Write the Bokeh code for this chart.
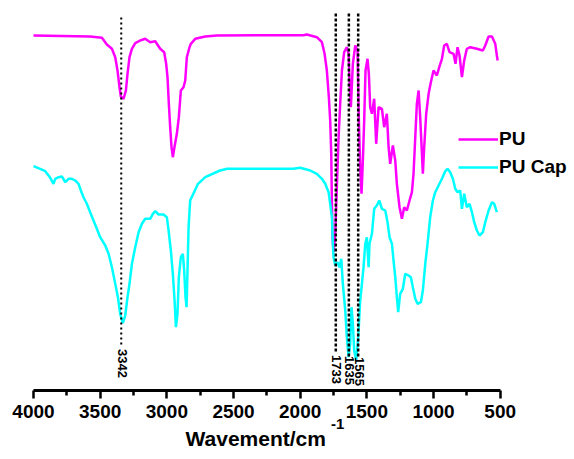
import numpy as np
from bokeh.plotting import figure
from bokeh.models import Range1d, FixedTicker, Label, Legend, LegendItem, ColumnDataSource
from bokeh.core.properties import value
from bokeh.embed import file_html
from bokeh.resources import INLINE

# ---------------- data (transmittance in arbitrary units) ----------------
pu_wn = [4000, 3575, 3487, 3450, 3412, 3387, 3370, 3355, 3345, 3325, 3307, 3295, 3280, 3262, 3237,
         3200, 3162, 3125, 3087, 3050, 3020, 3005, 2995, 2985, 2975, 2965, 2955, 2943, 2925, 2910,
         2895, 2875, 2862, 2850, 2830, 2820, 2787, 2712, 2625, 1977, 1950, 1875, 1837, 1817, 1800,
         1785, 1775, 1767, 1762, 1757, 1750, 1737, 1725, 1712, 1700, 1687, 1670, 1650, 1637, 1630,
         1620, 1605, 1587, 1570, 1560, 1550, 1540, 1530, 1520, 1510, 1495, 1485, 1475, 1462, 1445,
         1430, 1412, 1387, 1370, 1350, 1337, 1325, 1305, 1287, 1275, 1255, 1237, 1220, 1200, 1180,
         1162, 1150, 1137, 1125, 1112, 1100, 1087, 1080, 1070, 1055, 1037, 1020, 1000, 975, 957,
         937, 920, 900, 880, 850, 835, 820, 805, 787, 770, 750, 725, 675, 630, 612, 587, 562, 537,
         525, 519]
pu_t = [355, 354, 352.7, 346, 341.7, 333.3, 320, 303.3, 294, 291.7, 300, 316.7, 333.3, 341.7, 347.3,
        350, 351.7, 348.3, 349.3, 341.7, 338.3, 326.7, 313.3, 286.7, 263.3, 243.3, 233.3, 243.3, 256.7, 273.3,
        300, 303.3, 310, 333.3, 343.3, 346.7, 351.7, 354, 355, 355.3, 356, 353.3, 348.3, 336.7, 320,
        293.3, 270, 236.7, 186.7, 153.3, 138.3, 156.7, 203.3, 253.3, 286.7, 320, 338.3, 343.3, 336.7, 310,
        283.3, 326.7, 345, 340, 270, 223.3, 196.7, 230, 270, 320, 331.7, 316.7, 283.3, 276.7, 291.7,
        246.7, 283.3, 281.7, 263.3, 276.7, 243.3, 226.7, 245, 230, 206.7, 183.3, 171.7, 183.3, 180, 190,
        198.3, 216.7, 253.3, 286.7, 300, 273.3, 236.7, 216.7, 243.3, 276.7, 296.7, 308.3, 320, 315, 323.3,
        331.7, 345, 346.7, 338.3, 336.7, 326.7, 343.3, 335, 313.3, 330, 341.7, 343.3, 341.7, 340, 345, 354, 354, 346.7,
        335, 330]

cap_wn = [4000, 3950, 3912, 3887, 3870, 3850, 3837, 3812, 3787, 3762, 3737, 3712, 3687, 3662, 3645,
          3625, 3600, 3575, 3550, 3525, 3500, 3462, 3437, 3412, 3387, 3367, 3350, 3330, 3312, 3295,
          3280, 3262, 3237, 3212, 3187, 3162, 3125, 3105, 3087, 3062, 3025, 3000, 2987, 2970, 2955,
          2942, 2932, 2920, 2910, 2895, 2880, 2870, 2860, 2852, 2845, 2837, 2825, 2766, 2712, 2601,
          2547, 2052, 2000, 1925, 1875, 1837, 1812, 1787, 1775, 1762, 1755, 1750, 1737, 1720, 1705,
          1692, 1680, 1662, 1650, 1637, 1625, 1615, 1605, 1595, 1580, 1565, 1550, 1537, 1525, 1512,
          1500, 1487, 1480, 1462, 1445, 1425, 1407, 1387, 1362, 1345, 1330, 1312, 1300, 1287, 1275,
          1265, 1250, 1230, 1212, 1187, 1170, 1155, 1137, 1120, 1095, 1080, 1062, 1045, 1025, 1005,
          987, 962, 937, 912, 895, 875, 855, 837, 820, 800, 787, 770, 750, 730, 712, 695, 675, 655,
          630, 612, 587, 562, 545, 525]
cap_t = [224.3, 221.7, 219.3, 215, 211.7, 206.7, 211.7, 213.3, 214, 208.3, 211.7, 211.7, 210, 206.7, 200,
         193.3, 186.7, 178.3, 170, 161.7, 153.3, 145, 136.7, 123.3, 106.7, 93.3, 76.7, 67.3, 75, 93.3,
         106.7, 126.7, 143.3, 158.3, 166.7, 171.7, 171.7, 176.7, 179.3, 176, 176, 173.3, 160, 140, 116.7,
         90, 63.3, 76.7, 113.3, 133.3, 136.7, 120, 93.3, 83.3, 120, 163.3, 190, 206.7, 213.3, 220,
         221.7, 221.7, 222.7, 220, 216.7, 211.7, 206.7, 198.3, 186.7, 173.3, 146.7, 133.3, 125, 128.3, 123.3,
         131.7, 106.7, 80, 53.3, 33.3, 46.7, 83.3, 66.7, 40, 30, 53.3, 90, 106.7, 123.3, 146.7,
         153.3, 123.3, 146.7, 156.7, 181.7, 185, 190, 181.7, 180, 168.3, 153.3, 146.7, 130, 113.3, 93.3,
         78.3, 96.7, 101.7, 116.7, 115, 113.3, 103.3, 91.7, 86.7, 88.3, 100, 126.7, 146.7, 173.3, 190,
         198.3, 205, 211.7, 219.3, 221.7, 218.3, 211.7, 201.7, 198.3, 200, 181.7, 196.7, 183.3, 186.7, 178.3, 168.3, 160, 155,
         158.3, 168.3, 180, 188.3, 186.7, 178.3]

peak_wn = [3342, 1733, 1635, 1565]
peak_labels = ["3342", "1733", "1635", "1565"]

x_ticks = [4000, 3500, 3000, 2500, 2000, 1500, 1000, 500]
x_minor = [3750, 3250, 2750, 2250, 1750, 1250, 750]
series_names = ["PU", "PU Cap"]
series_colors = ["#FF00FF", "#00FFFF"]
axis_title = "Wavement/cm"
axis_title_sup = "-1"

# ---------------- figure ----------------
FONT = "Liberation Sans"
W, H = 574, 459
LEFT = 33          # pixel where 4000 cm-1 sits
PX_PER_WN = 466.7 / 3500.0
x_start = 4000 + LEFT / PX_PER_WN
x_end = 4000 - (W - LEFT) / PX_PER_WN

p = figure(width=W, height=H, output_backend="svg", toolbar_location=None,
           x_range=Range1d(x_start, x_end), y_range=Range1d(-69, 390),
           y_axis_location=None,
           min_border_left=0, min_border_right=0, min_border_top=0, min_border_bottom=0)
p.outline_line_color = None
p.xgrid.visible = False
p.ygrid.visible = False
p.background_fill_color = "white"
p.border_fill_color = "white"

ax = p.xaxis[0]
ax.fixed_location = 0
ax.bounds = (x_ticks[-1], x_ticks[0])
ax.ticker = FixedTicker(ticks=x_ticks, minor_ticks=x_minor)
ax.axis_line_width = 3
ax.axis_line_color = "black"
ax.major_tick_line_width = 2.5
ax.major_tick_line_color = "black"
ax.major_tick_in = 0
ax.major_tick_out = 8
ax.minor_tick_line_width = 2.5
ax.minor_tick_line_color = "black"
ax.minor_tick_in = 0
ax.minor_tick_out = 5
ax.major_label_text_font = FONT
ax.major_label_text_font_style = "bold"
ax.major_label_text_font_size = "19px"
ax.major_label_text_color = "black"
ax.major_label_standoff = 6

# spectra
r_pu = p.line(pu_wn, pu_t, line_color=series_colors[0], line_width=2.5)
r_cap = p.line(cap_wn, cap_t, line_color=series_colors[1], line_width=2.5)

# peak marker lines (dotted)
line_top = [373, 377, 377, 377]
line_bot = [46, 37, 34, 34]
src = ColumnDataSource(dict(x=peak_wn, lab=peak_labels, ly=[27, 21, 20, 19]))
p.segment(x0=[peak_wn[0]], y0=[line_top[0]], x1=[peak_wn[0]], y1=[line_bot[0]],
          line_color="black", line_width=2, line_dash="2 3")
p.segment(x0=peak_wn[1:], y0=line_top[1:], x1=peak_wn[1:], y1=line_bot[1:],
          line_color="black", line_width=2.5, line_dash="3 2")
p.text(x="x", y="ly", text="lab", source=src, angle=-np.pi / 2,
       text_align="center", text_baseline="middle", x_offset=1,
       text_font=value(FONT), text_font_style="bold", text_font_size="13px", text_color="black")

# axis title with superscript
p.add_layout(Label(x=2860, y=-48, text=axis_title, text_align="left", text_baseline="middle",
                   text_font=FONT, text_font_style="bold", text_font_size="21px", text_color="black"))
p.add_layout(Label(x=1768, y=-33, text=axis_title_sup, text_align="left", text_baseline="middle",
                   text_font=FONT, text_font_style="bold", text_font_size="15px", text_color="black"))

legend = Legend(items=[LegendItem(label=series_names[0], renderers=[r_pu]),
                       LegendItem(label=series_names[1], renderers=[r_cap])],
                location=(458, 281), padding=0, margin=0, spacing=6,
                glyph_width=40, glyph_height=20, label_height=20, label_standoff=1,
                label_text_font=FONT, label_text_font_style="bold", label_text_font_size="19px",
                label_text_color="black", border_line_alpha=0, background_fill_alpha=0)
p.add_layout(legend)

open("out.html", "w").write(file_html(p, INLINE))
